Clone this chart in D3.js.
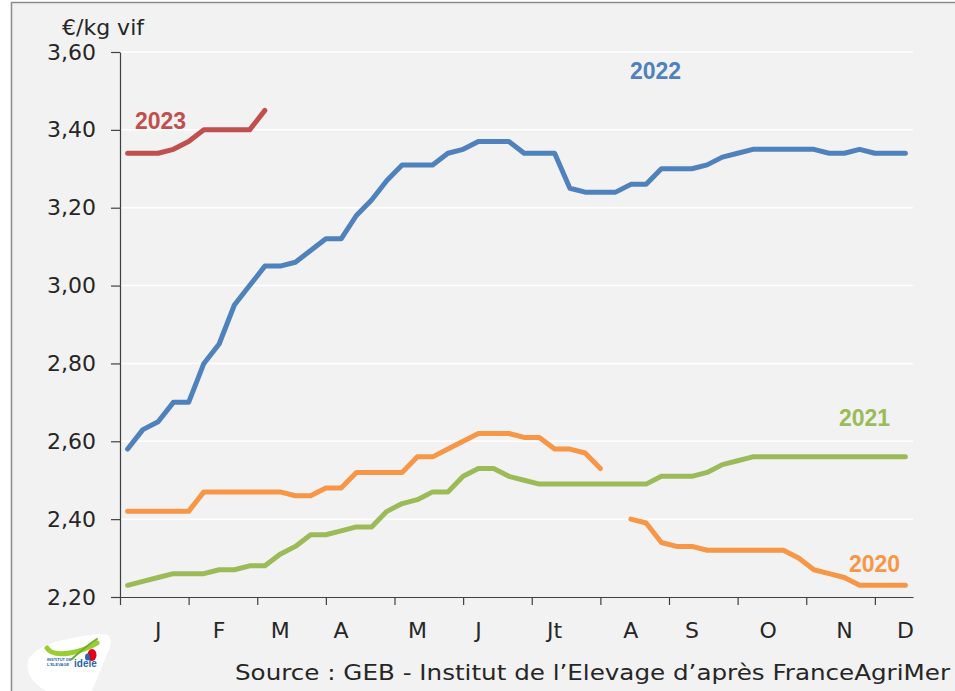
<!DOCTYPE html>
<html>
<head>
<meta charset="utf-8">
<script src="https://cdn.jsdelivr.net/npm/d3@7"></script>
<style>
  html, body { margin: 0; padding: 0; background: white; }
  svg { display: block; }
</style>
</head>
<body>
<div id="chart"></div>
<script>
// weekly prices, €/kg vif (weeks 1..52)
const weeks = d3.range(1, 53);

const prices2020 = [2.42, 2.42, 2.42, 2.42, 2.42, 2.47, 2.47, 2.47, 2.47, 2.47,
  2.47, 2.46, 2.46, 2.48, 2.48, 2.52, 2.52, 2.52, 2.52, 2.56,
  2.56, 2.58, 2.60, 2.62, 2.62, 2.62, 2.61, 2.61, 2.58, 2.58,
  2.57, 2.53, null, 2.40, 2.39, 2.34, 2.33, 2.33, 2.32, 2.32,
  2.32, 2.32, 2.32, 2.32, 2.30, 2.27, 2.26, 2.25, 2.23, 2.23,
  2.23, 2.23];

const prices2021 = [2.23, 2.24, 2.25, 2.26, 2.26, 2.26, 2.27, 2.27, 2.28, 2.28,
  2.31, 2.33, 2.36, 2.36, 2.37, 2.38, 2.38, 2.42, 2.44, 2.45,
  2.47, 2.47, 2.51, 2.53, 2.53, 2.51, 2.50, 2.49, 2.49, 2.49,
  2.49, 2.49, 2.49, 2.49, 2.49, 2.51, 2.51, 2.51, 2.52, 2.54,
  2.55, 2.56, 2.56, 2.56, 2.56, 2.56, 2.56, 2.56, 2.56, 2.56,
  2.56, 2.56];

const prices2022 = [2.58, 2.63, 2.65, 2.70, 2.70, 2.80, 2.85, 2.95, 3.00, 3.05,
  3.05, 3.06, 3.09, 3.12, 3.12, 3.18, 3.22, 3.27, 3.31, 3.31,
  3.31, 3.34, 3.35, 3.37, 3.37, 3.37, 3.34, 3.34, 3.34, 3.25,
  3.24, 3.24, 3.24, 3.26, 3.26, 3.30, 3.30, 3.30, 3.31, 3.33,
  3.34, 3.35, 3.35, 3.35, 3.35, 3.35, 3.34, 3.34, 3.35, 3.34,
  3.34, 3.34];

const prices2023 = [3.34, 3.34, 3.34, 3.35, 3.37, 3.40, 3.40, 3.40, 3.40, 3.45];

const yTicks = [2.20, 2.40, 2.60, 2.80, 3.00, 3.20, 3.40, 3.60];
const monthLabels = ["J", "F", "M", "A", "M", "J", "Jt", "A", "S", "O", "N", "D"];
const monthWeeks = [3, 7, 11, 15, 20, 24, 29, 34, 38, 43, 48, 52];
const tickWeeks = [0.5, 5, 9.5, 14, 18.5, 23, 27.5, 32, 36.5, 41, 45.5, 50];

const width = 955, height = 691;
const plot = { left: 120, right: 913, top: 52, bottom: 597 };
const axisFont = "'DejaVu Sans', sans-serif";
const textColor = "#262626";

const series = [
  { name: "2020", values: prices2020, color: "#f79646", lx: 849, ly: 572 },
  { name: "2021", values: prices2021, color: "#9bbb59", lx: 839, ly: 426 },
  { name: "2022", values: prices2022, color: "#4f81bd", lx: 630, ly: 79 },
  { name: "2023", values: prices2023, color: "#c0504d", lx: 135, ly: 129 }
];

const svg = d3.select("#chart")
  .append("svg")
  .attr("width", width)
  .attr("height", height)
;

// frame
svg.append("rect")
  .attr("x", 11.5)
  .attr("y", 2.5)
  .attr("width", width + 10)
  .attr("height", height + 10)
  .attr("fill", "#f2f2f2")
  .attr("stroke", "#8c8c8c")
  .attr("stroke-width", 1.5)
;

const x = d3.scaleLinear()
  .domain([0.5, 52.5])
  .range([plot.left, plot.right])
;

const y = d3.scaleLinear()
  .domain([2.2, 3.6])
  .range([plot.bottom, plot.top])
;

const fr = d3.formatLocale({ decimal: ",", thousands: " ", grouping: [3], currency: ["", "€"] });

// gridlines
svg.append("g")
  .selectAll("line")
  .data(yTicks.slice(1))
  .enter()
  .append("line")
  .attr("x1", plot.left)
  .attr("x2", plot.right)
  .attr("y1", d => y(d))
  .attr("y2", d => y(d))
  .attr("stroke", "white")
  .attr("stroke-width", 1.5)
;

// y axis
const yAxis = svg.append("g")
  .attr("transform", `translate(${plot.left},0)`)
  .call(d3.axisLeft(y)
    .tickValues(yTicks)
    .tickFormat(fr.format(".2f"))
    .tickSize(9)
    .tickSizeOuter(0)
    .tickPadding(15))
;
yAxis.selectAll("text")
  .attr("font-family", axisFont)
  .attr("font-size", 22)
  .attr("fill", textColor)
;

// x axis (ticks only, labels placed on month weeks)
svg.append("g")
  .attr("transform", `translate(0,${plot.bottom})`)
  .call(d3.axisBottom(x)
    .tickValues(tickWeeks)
    .tickFormat("")
    .tickSize(8)
    .tickSizeOuter(0))
;

svg.selectAll(".domain, .tick line")
  .attr("stroke", "#404040")
  .attr("stroke-width", 1.2)
;

svg.append("g")
  .selectAll("text")
  .data(monthLabels)
  .enter()
  .append("text")
  .attr("x", (d, i) => x(monthWeeks[i]))
  .attr("y", 638)
  .attr("text-anchor", "middle")
  .attr("font-family", axisFont)
  .attr("font-size", 22)
  .attr("fill", textColor)
  .text(d => d)
;

svg.append("text")
  .attr("x", 62)
  .attr("y", 35)
  .attr("font-family", axisFont)
  .attr("font-size", 22)
  .attr("fill", textColor)
  .text("€/kg vif")
;

// lines
const line = d3.line()
  .defined(d => d[1] != null)
  .x(d => x(d[0]))
  .y(d => y(d[1]))
;

svg.append("g")
  .selectAll("path")
  .data(series)
  .enter()
  .append("path")
  .attr("d", s => line(s.values.map((v, i) => [weeks[i], v])))
  .attr("fill", "none")
  .attr("stroke", s => s.color)
  .attr("stroke-width", 5)
  .attr("stroke-linejoin", "round")
  .attr("stroke-linecap", "round")
;

svg.append("g")
  .selectAll("text")
  .data(series)
  .enter()
  .append("text")
  .attr("x", s => s.lx)
  .attr("y", s => s.ly)
  .attr("font-family", "'Liberation Sans', Arial, sans-serif")
  .attr("font-weight", "bold")
  .attr("font-size", 23)
  .attr("fill", s => s.color)
  .text(s => s.name)
;

// source
svg.append("text")
  .attr("x", 235)
  .attr("y", 680)
  .attr("font-family", axisFont)
  .attr("font-size", 22)
  .attr("fill", textColor)
  .attr("textLength", 715)
  .attr("lengthAdjust", "spacingAndGlyphs")
  .text("Source : GEB - Institut de l’Elevage d’après FranceAgriMer")
;

// logo (rough)
const logo = svg.append("g");
logo.append("path")
  .attr("d", "M28,660 Q36,645 68,639 Q100,632 108,635 Q114,640 107,654 L92,691 L46,691 Q24,678 28,660 Z")
  .attr("fill", "white")
;
logo.append("path")
  .attr("d", "M47,648 Q52,656 70,653 Q86,650 97,643")
  .attr("fill", "none")
  .attr("stroke", "#9acd32")
  .attr("stroke-width", 5)
  .attr("stroke-linecap", "round")
;
logo.append("path")
  .attr("d", "M97,639 Q86,646 72,659")
  .attr("fill", "none")
  .attr("stroke", "#6ab023")
  .attr("stroke-width", 2)
  .attr("stroke-linecap", "round")
;
logo.append("ellipse")
  .attr("cx", 92)
  .attr("cy", 655)
  .attr("rx", 4.5)
  .attr("ry", 6)
  .attr("fill", "#e2001a")
;
logo.append("ellipse")
  .attr("cx", 87.5)
  .attr("cy", 657)
  .attr("rx", 2.5)
  .attr("ry", 3.5)
  .attr("fill", "#2b63ae")
;
logo.append("text")
  .attr("x", 47)
  .attr("y", 661)
  .attr("font-family", "'Liberation Sans', Arial, sans-serif")
  .attr("font-size", 4)
  .attr("font-weight", "bold")
  .attr("fill", "#2b63ae")
  .text("INSTITUT DE")
;
logo.append("text")
  .attr("x", 47)
  .attr("y", 666)
  .attr("font-family", "'Liberation Sans', Arial, sans-serif")
  .attr("font-size", 4)
  .attr("font-weight", "bold")
  .attr("fill", "#2b63ae")
  .text("L'ELEVAGE")
;
logo.append("text")
  .attr("x", 74)
  .attr("y", 667)
  .attr("font-family", "'Liberation Sans', Arial, sans-serif")
  .attr("font-size", 10)
  .attr("font-weight", "bold")
  .attr("fill", "#2b63ae")
  .text("idele")
;
</script>
</body>
</html>
